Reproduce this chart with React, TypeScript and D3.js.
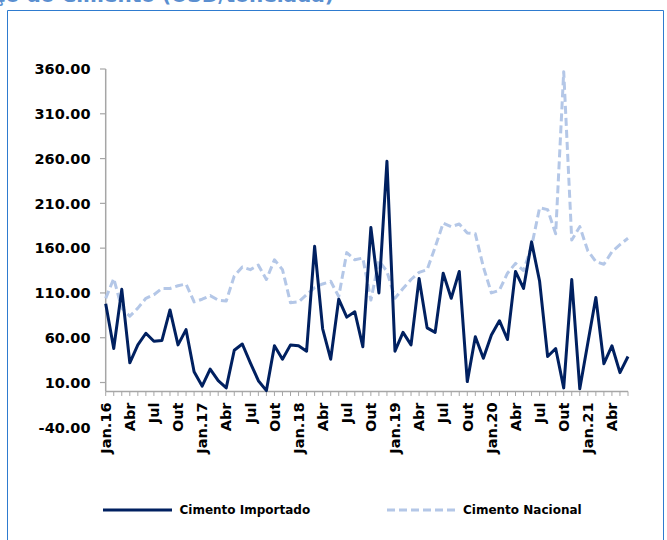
import React from 'react'
import * as d3 from 'd3'

// values, Jan.16 .. Jun.21 (66 months)
const importado = [
  98, 48, 114, 32, 52, 65, 56, 57, 91, 52, 69, 22,
  6, 25, 12, 4, 46, 53, 32, 12, 1, 51, 36, 52,
  51, 45, 162, 70, 36, 103, 83, 89, 50, 183, 110, 257,
  45, 66, 52, 126, 71, 66, 132, 104, 134, 11, 61, 37,
  63, 79, 58, 134, 115, 167, 123, 39, 48, 4, 125, 3,
  54, 105, 31, 51, 21, 39,
]

const nacional = [
  104, 126, 93, 84, 93, 104, 108, 115, 115, 118, 120, 100,
  103, 107, 102, 101, 129, 139, 136, 141, 125, 147, 136, 99,
  100, 108, 116, 120, 123, 106, 155, 147, 149, 102, 146, 134,
  104, 115, 125, 133, 136, 161, 188, 184, 187, 177, 176, 139,
  110, 113, 132, 143, 135, 162, 205, 203, 176, 357, 169, 184,
  157, 145, 142, 156, 164, 171,
]

// one label every third month
const xTickLabels = [
  'Jan.16', 'Abr', 'Jul', 'Out',
  'Jan.17', 'Abr', 'Jul', 'Out',
  'Jan.18', 'Abr', 'Jul', 'Out',
  'Jan.19', 'Abr', 'Jul', 'Out',
  'Jan.20', 'Abr', 'Jul', 'Out',
  'Jan.21', 'Abr',
]

const yTicks = [-40, 10, 60, 110, 160, 210, 260, 310, 360]

const seriesNames = ['Cimento Importado', 'Cimento Nacional']

const DARK = '#002060'
const LIGHT = '#b4c7e7'
const AXIS = '#a6a6a6'
const FONT = '"DejaVu Sans", Verdana, sans-serif'

export default () => {
  const W = 667
  const H = 540

  const x = d3.scaleLinear().domain([0, importado.length - 1]).range([105.7, 628])
  const y = d3.scaleLinear().domain([-40, 360]).range([427.3, 69])

  const line = d3
    .line<number>()
    .x((_, i) => x(i))
    .y((d) => y(d))

  const y0 = y(0)

  return (
    <div style={{ position: 'absolute', left: 0, top: 0 }}>
      <svg width={W} height={H} style={{ display: 'block', background: '#fff' }}>
        {/* title, cut at the top of the picture as in the reference */}
        <text
          x={334}
          y={1.5}
          textAnchor="end"
          fill="#5b8fd0"
          fontFamily={FONT}
          fontWeight="bold"
          fontSize={20}
        >
          Preço do Cimento (USD/tonelada)
        </text>

        {/* frame */}
        <path d={`M7.5,${H + 2} V10.5 H663.5 V${H + 2}`} fill="none" stroke="#2e7bcf" strokeWidth={1} />

        {/* y axis */}
        <line x1={105.7} x2={105.7} y1={y(360)} y2={y0} stroke={AXIS} strokeWidth={1.5} />
        {yTicks.map((t) => (
          <g key={t}>
            {t >= 0 && <line x1={100} x2={105.7} y1={y(t)} y2={y(t)} stroke={AXIS} strokeWidth={1.2} />}
            <text
              x={90.5}
              y={y(t)}
              dy="0.36em"
              textAnchor="end"
              fontFamily={FONT}
              fontWeight="bold"
              fontSize={14.5}
              fill="#000"
            >
              {t.toFixed(2)}
            </text>
          </g>
        ))}

        {/* x axis */}
        <line x1={105.7} x2={628} y1={y0} y2={y0} stroke={AXIS} strokeWidth={1.5} />
        {d3.range(importado.length).map((i) => (
          <line key={i} x1={x(i)} x2={x(i)} y1={y0} y2={y0 + 4.5} stroke={AXIS} strokeWidth={1} />
        ))}
        {xTickLabels.map((lab, k) => (
          <text
            key={k}
            transform={`translate(${x(k * 3)},${y0 + 11}) rotate(-90)`}
            dy="0.36em"
            textAnchor="end"
            fontFamily={FONT}
            fontWeight="bold"
            fontSize={14.5}
            fill="#000"
          >
            {lab}
          </text>
        ))}

        {/* series */}
        <path
          d={line(nacional) as string}
          fill="none"
          stroke={LIGHT}
          strokeWidth={3}
          strokeDasharray="8,4"
          strokeLinejoin="round"
        />
        <path d={line(importado) as string} fill="none" stroke={DARK} strokeWidth={3} strokeLinejoin="round" />

        {/* legend */}
        <line x1={103} x2={172} y1={510} y2={510} stroke={DARK} strokeWidth={3} />
        <text x={179.5} y={510} dy="0.36em" fontFamily={FONT} fontWeight="bold" fontSize={12} fill="#000">
          {seriesNames[0]}
        </text>
        <line x1={387} x2={457} y1={510} y2={510} stroke={LIGHT} strokeWidth={3} strokeDasharray="8,4" />
        <text x={463} y={510} dy="0.36em" fontFamily={FONT} fontWeight="bold" fontSize={12} fill="#000">
          {seriesNames[1]}
        </text>
      </svg>
    </div>
  )
}
